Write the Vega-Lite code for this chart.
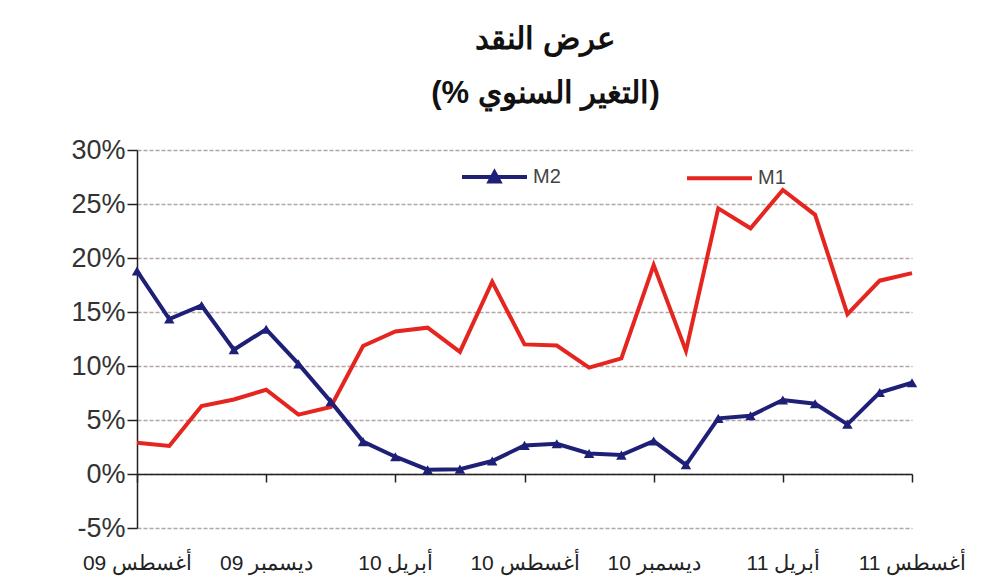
{
  "$schema": "https://vega.github.io/schema/vega-lite/v6.json",
  "width": 775,
  "height": 378,
  "autosize": {"type": "none"},
  "padding": {"left": 137, "top": 150, "right": 78, "bottom": 54},
  "background": "white",
  "title": {
    "text": ["عرض النقد", "‏(التغير السنوي %)‏"],
    "fontSize": 31,
    "font": "Liberation Sans",
    "fontWeight": "bold",
    "lineHeight": 54,
    "offset": 26,
    "dx": 21,
    "color": "#111111"
  },
  "data": {
    "values": [
      {"m": "أغسطس 09", "M1": 2.9, "M2": 18.8},
      {"m": "سبتمبر 09", "M1": 2.6, "M2": 14.35},
      {"m": "أكتوبر 09", "M1": 6.3, "M2": 15.6},
      {"m": "نوفمبر 09", "M1": 6.9, "M2": 11.5},
      {"m": "ديسمبر 09", "M1": 7.8, "M2": 13.4},
      {"m": "يناير 10", "M1": 5.5, "M2": 10.2},
      {"m": "فبراير 10", "M1": 6.2, "M2": 6.7},
      {"m": "مارس 10", "M1": 11.85, "M2": 3.0},
      {"m": "أبريل 10", "M1": 13.2, "M2": 1.6},
      {"m": "مايو 10", "M1": 13.55, "M2": 0.4},
      {"m": "يونيو 10", "M1": 11.3, "M2": 0.45},
      {"m": "يوليو 10", "M1": 17.8, "M2": 1.2},
      {"m": "أغسطس 10", "M1": 12.0, "M2": 2.65},
      {"m": "سبتمبر 10", "M1": 11.9, "M2": 2.8},
      {"m": "أكتوبر 10", "M1": 9.85, "M2": 1.9},
      {"m": "نوفمبر 10", "M1": 10.7, "M2": 1.75},
      {"m": "ديسمبر 10", "M1": 19.35, "M2": 3.05},
      {"m": "يناير 11", "M1": 11.4, "M2": 0.85},
      {"m": "فبراير 11", "M1": 24.6, "M2": 5.15},
      {"m": "مارس 11", "M1": 22.75, "M2": 5.4},
      {"m": "أبريل 11", "M1": 26.3, "M2": 6.85},
      {"m": "مايو 11", "M1": 24.0, "M2": 6.5},
      {"m": "يونيو 11", "M1": 14.8, "M2": 4.6},
      {"m": "يوليو 11", "M1": 17.9, "M2": 7.55},
      {"m": "أغسطس 11", "M1": 18.6, "M2": 8.45}
    ]
  },
  "transform": [{"fold": ["M1", "M2"], "as": ["series", "value"]}],
  "encoding": {
    "x": {
      "field": "m",
      "type": "ordinal",
      "sort": null,
      "scale": {"padding": 0},
      "axis": {
        "title": null,
        "values": ["أغسطس 09", "ديسمبر 09", "أبريل 10", "أغسطس 10", "ديسمبر 10", "أبريل 11", "أغسطس 11"],
        "offset": -54,
        "labelAngle": 0,
        "labelOverlap": false,
        "labelPadding": 70,
        "labelFontSize": 21,
        "labelFont": "Liberation Sans",
        "labelColor": "#222222",
        "domainColor": "#222222",
        "domainWidth": 1.5,
        "tickColor": "#222222",
        "tickWidth": 1.5,
        "tickSize": 8,
        "grid": false
      }
    },
    "y": {
      "field": "value",
      "type": "quantitative",
      "scale": {"domain": [-5, 30], "nice": false, "zero": false},
      "axis": {
        "title": null,
        "values": [-5, 0, 5, 10, 15, 20, 25, 30],
        "labelExpr": "datum.value + '%'",
        "labelFontSize": 27,
        "labelFont": "Liberation Sans",
        "labelColor": "#333333",
        "labelPadding": 2,
        "tickSize": 10,
        "tickColor": "#222222",
        "tickWidth": 1.5,
        "domainColor": "#222222",
        "domainWidth": 1.5,
        "grid": true,
        "gridColor": "#b3a5a5",
        "gridDash": [4, 2],
        "gridWidth": 1.5
      }
    }
  },
  "layer": [
    {
      "mark": {"type": "line", "strokeWidth": 4},
      "encoding": {
        "color": {
          "field": "series",
          "type": "nominal",
          "scale": {"domain": ["M2", "M1"], "range": ["#1e2078", "#e5251f"]},
          "legend": {
            "title": null,
            "orient": "none",
            "legendX": 323,
            "legendY": -8,
            "direction": "horizontal",
            "symbolType": "stroke",
            "symbolSize": 4225,
            "symbolStrokeWidth": 4,
            "labelFontSize": 20,
            "labelFont": "Liberation Sans",
            "labelColor": "#444444",
            "labelOffset": 4,
            "columnPadding": 118,
            "encode": {
              "symbols": {
                "update": {
                  "shape": {"signal": "datum.value === 'M2' ? 'M-1,0H1M-0.15,0.14L0,-0.14L0.15,0.14Z' : 'M-1,0H1'"},
                  "fill": {"signal": "datum.value === 'M2' ? '#1e2078' : 'transparent'"}
                }
              }
            }
          }
        }
      }
    },
    {
      "transform": [{"filter": "datum.series === 'M2'"}],
      "mark": {"type": "point", "shape": "triangle-up", "filled": true, "size": 110, "color": "#1e2078", "opacity": 1}
    }
  ],
  "config": {"view": {"stroke": null}}
}
